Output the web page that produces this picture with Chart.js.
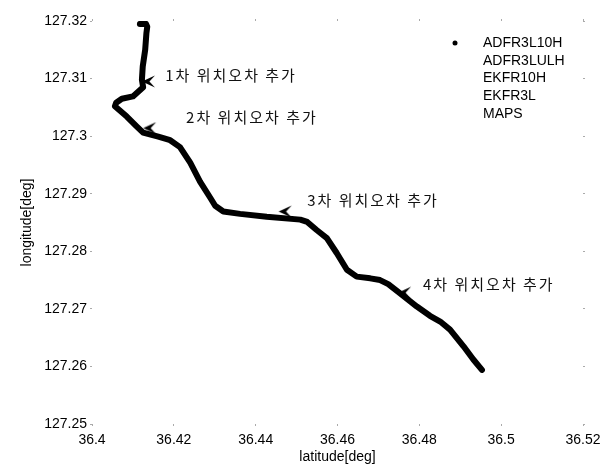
<!DOCTYPE html>
<html>
<head>
<meta charset="utf-8">
<script src="https://cdn.jsdelivr.net/npm/chart.js@4"></script>
<style>
html,body{margin:0;padding:0;background:#fff;}
#wrap{width:613px;height:464px;}
</style>
</head>
<body>
<div id="wrap"><canvas id="grafica" width="613" height="464"></canvas></div>
<script>
// 주행 궤적 (위도, 경도)
const latitude = [36.4117,36.4132,36.4135,36.4133,36.4130,36.4124,36.4122,36.4125,36.4100,36.4073,
    36.4059,36.4056,36.4085,36.4109,36.4125,36.4162,36.4191,36.4215,36.4240,36.4264,
    36.4289,36.4301,36.4321,36.4362,36.4427,36.4509,36.4526,36.4549,36.4574,36.4598,
    36.4623,36.4647,36.4680,36.4704,36.4724,36.4753,36.4794,36.4826,36.4851,36.4875,
    36.4908,36.4932,36.4953];
const longitude = [127.3195,127.3195,127.3190,127.3179,127.3150,127.3121,127.3098,127.3085,127.3069,127.3065,
    127.3058,127.3052,127.3034,127.3017,127.3006,127.2999,127.2993,127.2981,127.2954,127.2921,
    127.2893,127.2879,127.2869,127.2865,127.2860,127.2855,127.2851,127.2837,127.2823,127.2797,
    127.2768,127.2756,127.2753,127.2750,127.2743,127.2727,127.2704,127.2688,127.2678,127.2664,
    127.2635,127.2612,127.2594];

const seriesNames = ["ADFR3L10H","ADFR3LULH","EKFR10H","EKFR3L","MAPS"];
const xTicks = [36.4,36.42,36.44,36.46,36.48,36.5,36.52];
const yTicks = [127.25,127.26,127.27,127.28,127.29,127.3,127.31,127.32];

// 위치오차 추가 지점 화살표와 설명
const arrowLat = [36.4122,36.4125,36.4456,36.4748];
const arrowLon = [127.3095,127.3014,127.2869,127.2728];
const noteText = ["1차 위치오차 추가","2차 위치오차 추가","3차 위치오차 추가","4차 위치오차 추가"];
const noteLat = [36.4179,36.4230,36.4526,36.4809];
const noteLon = [127.3105,127.3032,127.2889,127.2742];

const FONT = '"Liberation Sans", Arial, sans-serif';

// 화살촉 (왼쪽을 가리킴, 끝점이 캔버스 중앙)
const flecha = document.createElement('canvas');
flecha.width = 28; flecha.height = 13;
const fc = flecha.getContext('2d');
fc.fillStyle = '#000';
fc.beginPath();
fc.moveTo(14, 6.5);
fc.lineTo(27, 0.5);
fc.lineTo(21.5, 6.5);
fc.lineTo(27, 12.5);
fc.closePath();
fc.fill();

const notas = {
    id: 'notas',
    afterDatasetsDraw(chart) {
        const {ctx, scales: {x, y}} = chart;
        ctx.save();
        ctx.font = '15px "Noto Sans CJK KR", sans-serif';
        ctx.letterSpacing = '2px';
        ctx.fillStyle = '#111';
        ctx.textBaseline = 'middle';
        noteText.forEach((t, i) => {
            ctx.fillText(t, x.getPixelForValue(noteLat[i]), y.getPixelForValue(noteLon[i]));
        });
        ctx.restore();
    }
};

const leyenda = {
    id: 'leyenda',
    afterDraw(chart) {
        const {ctx, chartArea} = chart;
        ctx.save();
        ctx.font = '14px ' + FONT;
        ctx.fillStyle = '#000';
        ctx.textBaseline = 'middle';
        chart.data.datasets.filter(d => !d.isNote).forEach((d, i) => {
            const yy = chartArea.top + 22 + i * 17.75;
            if (i === 0) {
                ctx.beginPath();
                ctx.arc(chartArea.right - 128, yy, 2.5, 0, Math.PI * 2);
                ctx.fill();
            }
            ctx.fillText(d.label, chartArea.right - 100, yy);
        });
        ctx.restore();
    }
};

const datasets = seriesNames.map((name, i) => ({
    label: name,
    data: i === 0 ? latitude.map((v, k) => ({x: v, y: longitude[k]})) : [],
    showLine: true,
    borderColor: '#000',
    borderWidth: 6,
    borderJoinStyle: 'round',
    borderCapStyle: 'round',
    pointRadius: 0,
    tension: 0
}));
datasets.push({
    label: 'arrows',
    isNote: true,
    data: arrowLat.map((v, k) => ({x: v, y: arrowLon[k]})),
    showLine: false,
    pointStyle: flecha,
    pointRadius: 8
});

const tickGrid = {drawOnChartArea: false, drawTicks: true, tickLength: 2, color: '#aaa'};

new Chart(document.getElementById('grafica'), {
    type: 'scatter',
    data: {datasets},
    options: {
        responsive: false,
        animation: false,
        devicePixelRatio: 1,
        layout: {padding: {left: 0, right: 30, top: 21, bottom: 0}},
        plugins: {legend: {display: false}, tooltip: {enabled: false}},
        scales: {
            x: {
                type: 'linear', position: 'bottom', min: 36.4, max: 36.52,
                afterBuildTicks: s => { s.ticks = xTicks.map(v => ({value: v})); },
                afterFit: s => { s.height = 40; },
                grid: tickGrid,
                border: {display: false},
                ticks: {padding: 6, color: '#000', font: {family: FONT, size: 14},
                    callback: v => String(+v.toFixed(2)), maxRotation: 0, autoSkip: false},
                title: {display: true, text: 'latitude[deg]', color: '#000',
                    font: {family: FONT, size: 14, lineHeight: 1}, padding: {top: 0, bottom: 0}}
            },
            y: {
                type: 'linear', position: 'left', min: 127.25, max: 127.32,
                afterBuildTicks: s => { s.ticks = yTicks.map(v => ({value: v})); },
                afterFit: s => { s.width = 92; },
                grid: tickGrid,
                border: {display: false},
                ticks: {padding: 3, color: '#000', font: {family: FONT, size: 14},
                    callback: v => String(+v.toFixed(2)), autoSkip: false},
                title: {display: true, text: 'longitude[deg]', color: '#000',
                    font: {family: FONT, size: 14, lineHeight: 1}, padding: {top: 20, bottom: 0}}
            },
            x2: {
                type: 'linear', position: 'top', min: 36.4, max: 36.52,
                afterBuildTicks: s => { s.ticks = xTicks.map(v => ({value: v})); },
                afterFit: s => { s.height = 0; },
                grid: tickGrid, border: {display: false}, ticks: {display: false}
            },
            y2: {
                type: 'linear', position: 'right', min: 127.25, max: 127.32,
                afterBuildTicks: s => { s.ticks = yTicks.map(v => ({value: v})); },
                afterFit: s => { s.width = 0; },
                grid: tickGrid, border: {display: false}, ticks: {display: false}
            }
        }
    },
    plugins: [notas, leyenda]
});
</script>
</body>
</html>
